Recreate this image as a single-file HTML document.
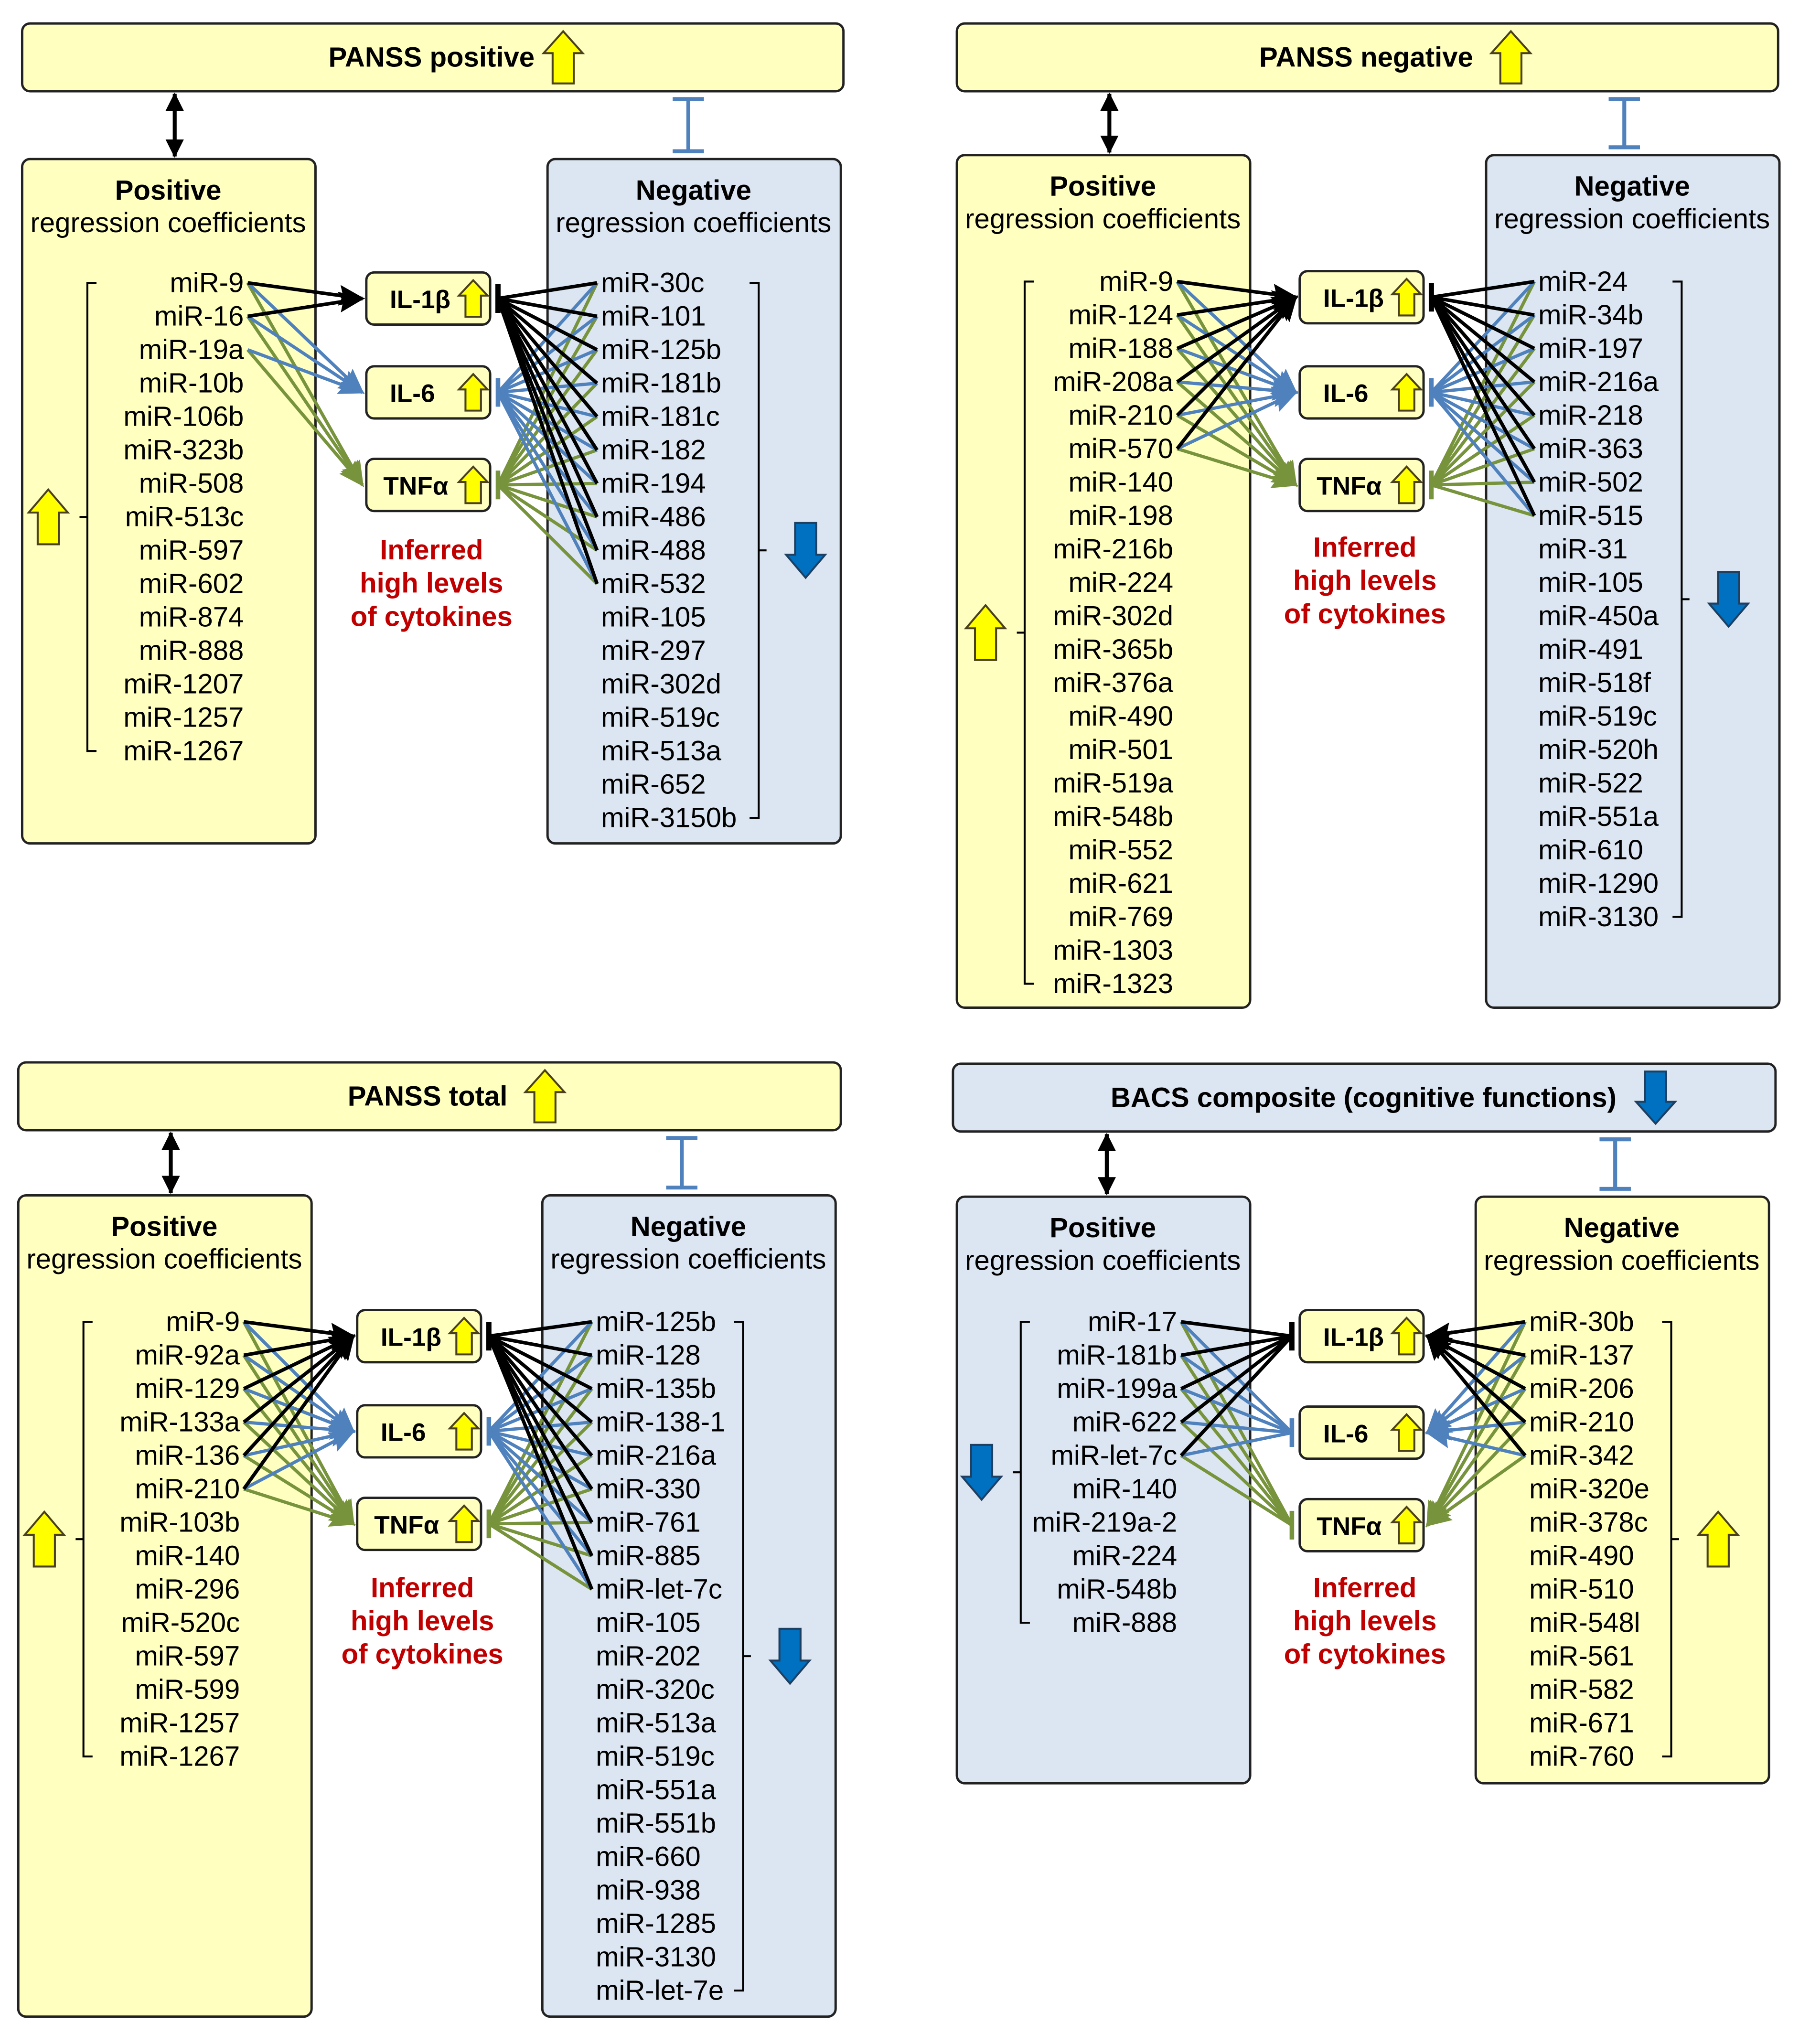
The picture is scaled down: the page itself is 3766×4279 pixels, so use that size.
<!DOCTYPE html>
<html><head><meta charset="utf-8"><style>
html,body{margin:0;padding:0;background:#fff}
svg{display:block}
text{font-family:"Liberation Sans",sans-serif}
</style></head><body>
<svg id="s" xmlns="http://www.w3.org/2000/svg" width="3766" height="4279" viewBox="0 0 1380 1568">
<defs>
<marker id="mk" markerUnits="userSpaceOnUse" markerWidth="22" markerHeight="20" refX="18" refY="10" orient="auto"><path d="M0,2 L20,10 L0,18 L3,10 Z" fill="#000"/></marker>
<marker id="mb" markerUnits="userSpaceOnUse" markerWidth="22" markerHeight="20" refX="18" refY="10" orient="auto"><path d="M0,2 L20,10 L0,18 L3,10 Z" fill="#4F81BD"/></marker>
<marker id="mg" markerUnits="userSpaceOnUse" markerWidth="22" markerHeight="20" refX="18" refY="10" orient="auto"><path d="M0,2 L20,10 L0,18 L3,10 Z" fill="#77933C"/></marker>
<marker id="dk" markerUnits="userSpaceOnUse" markerWidth="16" markerHeight="14" refX="13" refY="7" orient="auto-start-reverse"><path d="M0,0 L14,7 L0,14 Z" fill="#000"/></marker>
</defs>
</svg>
<script>
const S=document.getElementById('s');
const Y='#FFFFC0',B='#DCE6F2',BK='#000',BL='#4F81BD',GR='#77933C';
const FS=21.3;
let h='';
function rect(x1,y1,x2,y2,f){h+=`<rect x="${x1}" y="${y1}" width="${x2-x1}" height="${y2-y1}" rx="6" fill="${f}" stroke="#222" stroke-width="1.8"/>`;}
function txt(x,y,t,o){o=o||{};h+=`<text x="${x}" y="${y}" font-size="${o.fs||FS}" ${o.b?'font-weight="bold"':''} text-anchor="${o.a||'middle'}" fill="${o.c||'#000'}" dominant-baseline="central">${t}</text>`;}
function up(cx,cy,w,hh,sc){const hw=w/2,sw=w*0.27,hy=hh*0.42;h+=`<polygon points="${cx},${cy-hh/2} ${cx+hw},${cy-hh/2+hy} ${cx+sw},${cy-hh/2+hy} ${cx+sw},${cy+hh/2} ${cx-sw},${cy+hh/2} ${cx-sw},${cy-hh/2+hy} ${cx-hw},${cy-hh/2+hy}" fill="#FFFF00" stroke="${sc||'#4a4020'}" stroke-width="1.5"/>`;}
function down(cx,cy,w,hh){const hw=w/2,sw=w*0.27,hy=hh*0.42;h+=`<polygon points="${cx},${cy+hh/2} ${cx+hw},${cy+hh/2-hy} ${cx+sw},${cy+hh/2-hy} ${cx+sw},${cy-hh/2} ${cx-sw},${cy-hh/2} ${cx-sw},${cy+hh/2-hy} ${cx-hw},${cy+hh/2-hy}" fill="#0070C0" stroke="#1F3F60" stroke-width="1.5"/>`;}
function line(x1,y1,x2,y2,c,w,m){h+=`<line x1="${x1}" y1="${y1}" x2="${x2}" y2="${y2}" stroke="${c}" stroke-width="${w}" ${m?`marker-end="url(#${m})"`:''}/>`;}
function ibar(x,y1,y2){line(x,y1,x,y2,BL,3);line(x-12,y1,x+12,y1,BL,3);line(x-12,y2,x+12,y2,BL,3);}
function dbl(x,y1,y2){h+=`<line x1="${x}" y1="${y1}" x2="${x}" y2="${y2}" stroke="#000" stroke-width="3" marker-start="url(#dk)" marker-end="url(#dk)"/>`;}
function brL(x,y1,y2){h+=`<path d="M${x+7},${y1} H${x} V${y2} H${x+7} M${x},${(y1+y2)/2} H${x-6}" fill="none" stroke="#000" stroke-width="1.5"/>`;}
function brR(x,y1,y2){h+=`<path d="M${x-7},${y1} H${x} V${y2} H${x-7} M${x},${(y1+y2)/2} H${x+6}" fill="none" stroke="#000" stroke-width="1.5"/>`;}
function panel(p){
 rect(p.tx1,p.ty1,p.tx2,p.ty2,p.tf);
 txt(p.ttx,(p.ty1+p.ty2)/2,p.title,{b:1});
 if(p.tf==Y) up(p.tax,(p.ty1+p.ty2)/2,30,40); else down(p.tax,(p.ty1+p.ty2)/2,30,40);
 dbl(p.dx,p.ty2+2,p.py1-2);
 ibar(p.ix,p.ty2+6,p.py1-6);
 rect(p.lx1,p.py1,p.lx1+225,p.py2,p.lf);
 rect(p.rx1,p.py1,p.rx1+225,p.py2,p.rf);
 [[p.lx1,'Positive'],[p.rx1,'Negative']].forEach(([x,t])=>{txt(x+112,p.py1+24,t,{b:1});txt(x+112,p.py1+49,'regression coefficients');});
 const st=25.65;
 const ly=p.L.map((_,i)=>p.y0+i*st), ry=p.R.map((_,i)=>p.y0+i*st);
 p.L.forEach((t,i)=>txt(p.ltx,ly[i],t,{a:'end'}));
 p.R.forEach((t,i)=>txt(p.rtx,ry[i],t,{a:'start'}));
 brL(p.lbx,ly[0],ly[ly.length-1]);
 brR(p.rbx,ry[0],ry[ry.length-1]);
 const lm=(ly[0]+ly[ly.length-1])/2, rm=(ry[0]+ry[ry.length-1])/2;
 if(p.lf==Y) up(p.lbx-30,lm,30,42); else down(p.lbx-30,lm,30,42);
 if(p.rf==Y) up(p.rbx+36,rm,30,42); else down(p.rbx+36,rm,30,42);
 const cx1=p.cx,cx2=p.cx+95,names=['IL-1β','IL-6','TNFα'],cols=[BK,BL,GR],mks=['mk','mb','mg'];
 const cyc=p.cy.map(y=>y+20);
 const lstart=p.ltx+3, rstart=p.rtx-3;
 [2,1,0].forEach(k=>{
  const c=cols[k],w=k==0?2.7:2.5;
  for(let i=0;i<p.nl;i++){
    if(p.lk && k==0 && !p.lk.includes(i)) continue;
    if(p.leftAct) line(lstart,ly[i],cx1-3,cyc[k],c,w,mks[k]); else line(lstart,ly[i],cx1-6,cyc[k],c,w);
  }
  for(let i=0;i<p.nr;i++){
    if(p.rightAct) line(rstart,ry[i],cx2+3,cyc[k],c,w,mks[k]); else line(rstart,ry[i],cx2+6,cyc[k],c,w);
  }
 });
 for(let k=0;k<3;k++){
  rect(cx1,p.cy[k],cx2,p.cy[k]+40,Y);
  txt(cx1+(k==2?13:18),cyc[k]+1,names[k],{b:1,fs:19.5,a:'start'});
  up(cx2-13,cyc[k],22,28);
  const c=cols[k];
  if(!p.leftAct) line(cx1-6,cyc[k]-11,cx1-6,cyc[k]+11,c,k==0?4:3.5);
  if(!p.rightAct) line(cx2+6,cyc[k]-11,cx2+6,cyc[k]+11,c,k==0?4:3.5);
 }
 txt(cx1+50,p.iy,'Inferred',{b:1,c:'#C00000'});
 txt(cx1+50,p.iy+25.5,'high levels',{b:1,c:'#C00000'});
 txt(cx1+50,p.iy+51,'of cytokines',{b:1,c:'#C00000'});
}
panel({tx1:17,ty1:18,tx2:647,ty2:70,tf:Y,title:'PANSS positive',ttx:331,tax:432,dx:134,ix:528,py1:122,py2:647,lx1:17,rx1:420,lf:Y,rf:B,
 y0:217,ltx:187,rtx:461,lbx:67,rbx:582,cx:281,cy:[209,281,352],iy:422,nl:3,nr:10,lk:[0,1],leftAct:true,rightAct:false,
 L:['miR-9','miR-16','miR-19a','miR-10b','miR-106b','miR-323b','miR-508','miR-513c','miR-597','miR-602','miR-874','miR-888','miR-1207','miR-1257','miR-1267'],
 R:['miR-30c','miR-101','miR-125b','miR-181b','miR-181c','miR-182','miR-194','miR-486','miR-488','miR-532','miR-105','miR-297','miR-302d','miR-519c','miR-513a','miR-652','miR-3150b']});
panel({tx1:734,ty1:18,tx2:1364,ty2:70,tf:Y,title:'PANSS negative',ttx:1048,tax:1159,dx:851,ix:1246,py1:119,py2:773,lx1:734,rx1:1140,lf:Y,rf:B,
 y0:216,ltx:900,rtx:1180,lbx:786,rbx:1290,cx:997,cy:[208,281,352],iy:420,nl:6,nr:8,leftAct:true,rightAct:false,
 L:['miR-9','miR-124','miR-188','miR-208a','miR-210','miR-570','miR-140','miR-198','miR-216b','miR-224','miR-302d','miR-365b','miR-376a','miR-490','miR-501','miR-519a','miR-548b','miR-552','miR-621','miR-769','miR-1303','miR-1323'],
 R:['miR-24','miR-34b','miR-197','miR-216a','miR-218','miR-363','miR-502','miR-515','miR-31','miR-105','miR-450a','miR-491','miR-518f','miR-519c','miR-520h','miR-522','miR-551a','miR-610','miR-1290','miR-3130']});
panel({tx1:14,ty1:815,tx2:645,ty2:867,tf:Y,title:'PANSS total',ttx:328,tax:418,dx:131,ix:523,py1:917,py2:1547,lx1:14,rx1:416,lf:Y,rf:B,
 y0:1014,ltx:184,rtx:457,lbx:64,rbx:570,cx:274,cy:[1005,1078,1149],iy:1218,nl:6,nr:9,leftAct:true,rightAct:false,
 L:['miR-9','miR-92a','miR-129','miR-133a','miR-136','miR-210','miR-103b','miR-140','miR-296','miR-520c','miR-597','miR-599','miR-1257','miR-1267'],
 R:['miR-125b','miR-128','miR-135b','miR-138-1','miR-216a','miR-330','miR-761','miR-885','miR-let-7c','miR-105','miR-202','miR-320c','miR-513a','miR-519c','miR-551a','miR-551b','miR-660','miR-938','miR-1285','miR-3130','miR-let-7e']});
panel({tx1:731,ty1:816,tx2:1362,ty2:868,tf:B,title:'BACS composite (cognitive functions)',ttx:1046,tax:1270,dx:849,ix:1239,py1:918,py2:1368,lx1:734,rx1:1132,lf:B,rf:Y,
 y0:1014,ltx:903,rtx:1173,lbx:783,rbx:1282,cx:997,cy:[1005,1079,1150],iy:1218,nl:5,nr:5,leftAct:false,rightAct:true,
 L:['miR-17','miR-181b','miR-199a','miR-622','miR-let-7c','miR-140','miR-219a-2','miR-224','miR-548b','miR-888'],
 R:['miR-30b','miR-137','miR-206','miR-210','miR-342','miR-320e','miR-378c','miR-490','miR-510','miR-548l','miR-561','miR-582','miR-671','miR-760']});
S.insertAdjacentHTML('beforeend',h);
</script>
</body></html>
